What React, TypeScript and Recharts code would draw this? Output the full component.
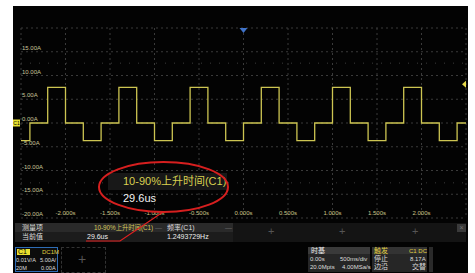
import { LineChart, Line, XAxis, YAxis, CartesianGrid, ReferenceLine, ReferenceDot } from "recharts";

// time (s) of each level change and the current (A) held from that point on
const times = [-2.5, -2.4, -2.2, -2.0, -1.8, -1.6, -1.4, -1.2, -1.0, -0.8, -0.6, -0.4, -0.2, 0.0, 0.2, 0.4, 0.6, 0.8, 1.0, 1.2, 1.4, 1.6, 1.8, 2.0, 2.2, 2.4, 2.5];
const current = [-3.7, 0, 7.5, 0, -3.7, 0, 7.5, 0, -3.7, 0, 7.5, 0, -3.7, 0, 7.5, 0, -3.7, 0, 7.5, 0, -3.7, 0, 7.5, 0, -3.7, 0, 0];

const xTicks = [-2.5, -2, -1.5, -1, -0.5, 0, 0.5, 1, 1.5, 2, 2.5];
const yTicks = [-20, -15, -10, -5, 0, 5, 10, 15, 20];
const triggerLevel = 8.17;

const data = times.map((t, i) => ({ t, amp: current[i] }));

const labelFont = "'Liberation Sans', Arial, sans-serif";
const cjkFont = "'Liberation Sans', 'Noto Sans CJK SC', sans-serif";

const renderXTick = (props: any) => {
  const { x, y, payload } = props;
  if (Math.abs(payload.value) === 2.5) return <g />;
  return (
    <text x={x} y={y - 3} textAnchor="middle" fontSize={6} fontFamily={labelFont} fill="#c9c488">
      {payload.value.toFixed(3)}s
    </text>
  );
};

const renderYTick = (props: any) => {
  const { x, y, payload } = props;
  if (payload.value === 20) return <g />;
  return (
    <text x={x + 1} y={y - 2} textAnchor="start" fontSize={6} fontFamily={labelFont} fill="#c9c69a">
      {payload.value.toFixed(2)}A
    </text>
  );
};

const TrigArrow = (props: any) => {
  const { cx, cy } = props;
  return <polygon points={`${cx - 4},${cy} ${cx},${cy - 3.5} ${cx},${cy + 3.5}`} fill="#e6d84a" />;
};

const TimeArrow = (props: any) => {
  const { cx, cy } = props;
  return <polygon points={`${cx - 4},${cy} ${cx + 4},${cy} ${cx},${cy + 5}`} fill="#3f72c8" />;
};

const ChanTag = (props: any) => {
  const { cx, cy } = props;
  return (
    <g>
      <rect x={cx - 8} y={cy - 3.5} width={7} height={7} fill="#e8e030" />
      <text x={cx - 4.5} y={cy + 2} textAnchor="middle" fontSize={5} fontFamily={labelFont} fill="#000">
        C1
      </text>
    </g>
  );
};

const txt = (s: any): any => ({ position: "absolute", fontSize: 7, fontFamily: cjkFont, lineHeight: "8px", whiteSpace: "nowrap", ...s });

export default function App() {
  return (
    <div style={{ position: "absolute", left: 0, top: 0, width: 475, height: 273, background: "#fff", overflow: "hidden" }}>
      <div style={{ position: "absolute", left: 13, top: 6, width: 455, height: 267, background: "#030303" }} />

      {/* measurement table */}
      <div style={{ position: "absolute", left: 15, top: 223, width: 451, height: 19, background: "#141414" }} />
      <div style={{ position: "absolute", left: 15, top: 223, width: 218, height: 9, background: "#2a2a2a" }} />
      <div style={{ position: "absolute", left: 15, top: 232, width: 218, height: 10, background: "#1c1c1c" }} />
      <div style={txt({ left: 22, top: 224, color: "#ddd" })}>测量项</div>
      <div style={txt({ left: 22, top: 233, color: "#ddd" })}>当前值</div>
      <div style={txt({ left: 94, top: 224, fontSize: 6.3, color: "#d6c85a" })}>10-90%上升时间(C1)</div>
      <div style={txt({ left: 155, top: 224, color: "#666" })}>—</div>
      <div style={txt({ left: 167, top: 224, color: "#ddd" })}>频率(C1)</div>
      <div style={txt({ left: 225, top: 224, color: "#666" })}>—</div>
      <div style={txt({ left: 87, top: 233, color: "#eee" })}>29.6us</div>
      <div style={txt({ left: 167, top: 233, color: "#eee" })}>1.2493729Hz</div>
      {[272, 343, 416].map((x) => (
        <div key={x} style={txt({ left: x - 4, top: 226, fontSize: 11, lineHeight: "11px", color: "#555" })}>+</div>
      ))}
      <div style={{ position: "absolute", left: 457, top: 224, width: 9, height: 8, background: "#3a3a3a", color: "#777", fontSize: 7, lineHeight: "8px", textAlign: "center", fontFamily: labelFont }}>×</div>

      {/* channel box */}
      <div style={{ position: "absolute", left: 15, top: 247, width: 41, height: 23, border: "1.5px solid #2d6cb5", background: "#0c0c0c" }} />
      <div style={{ position: "absolute", left: 17, top: 249, width: 13, height: 6, background: "#e8e030" }} />
      <div style={txt({ left: 18, top: 248, color: "#000" })}>C1</div>
      <div style={txt({ left: 42, top: 248, fontSize: 6, color: "#e0d040" })}>DC1M</div>
      <div style={txt({ left: 16, top: 256, fontSize: 5.6, color: "#ddd" })}>0.01V/A</div>
      <div style={txt({ left: 40, top: 256, fontSize: 5.6, color: "#ddd" })}>5.00A/</div>
      <div style={txt({ left: 16, top: 264, fontSize: 5.6, color: "#ddd" })}>20M</div>
      <div style={txt({ left: 41, top: 264, fontSize: 5.6, color: "#ddd" })}>0.00A</div>
      <div style={{ position: "absolute", left: 61, top: 247, width: 43, height: 24, border: "1px dashed #333" }} />
      <div style={txt({ left: 78, top: 252, fontSize: 14, lineHeight: "14px", color: "#555" })}>+</div>

      {/* timebase */}
      <div style={{ position: "absolute", left: 308, top: 247, width: 62, height: 25, background: "#262626" }} />
      <div style={{ position: "absolute", left: 308, top: 247, width: 62, height: 7, background: "#3a3a3a" }} />
      <div style={txt({ left: 311, top: 247, color: "#eee" })}>时基</div>
      <div style={txt({ left: 310, top: 255, fontSize: 6, color: "#ddd" })}>0.00s</div>
      <div style={txt({ left: 340, top: 255, fontSize: 6, color: "#ddd" })}>500ms/div</div>
      <div style={txt({ left: 310, top: 263, fontSize: 6, color: "#ddd" })}>20.0Mpts</div>
      <div style={txt({ left: 342, top: 263, fontSize: 6, color: "#ddd" })}>4.00MSa/s</div>

      {/* trigger */}
      <div style={{ position: "absolute", left: 372, top: 247, width: 55, height: 25, background: "#262626" }} />
      <div style={{ position: "absolute", left: 372, top: 247, width: 55, height: 7, background: "#333" }} />
      <div style={txt({ left: 374, top: 247, color: "#e0d040" })}>触发</div>
      <div style={txt({ left: 409, top: 247, fontSize: 6, color: "#e0d040" })}>C1 DC</div>
      <div style={txt({ left: 374, top: 255, color: "#ddd" })}>停止</div>
      <div style={txt({ left: 410, top: 255, fontSize: 6, color: "#ddd" })}>8.17A</div>
      <div style={txt({ left: 374, top: 263, color: "#ddd" })}>边沿</div>
      <div style={txt({ left: 412, top: 263, color: "#ddd" })}>交替</div>
      <div style={{ position: "absolute", left: 429, top: 247, width: 4, height: 25, background: "#2a2a2a" }} />

      <div style={{ position: "absolute", left: 0, top: 0 }}>
        <LineChart width={475} height={273} data={data} margin={{ top: 28, right: 9, bottom: 54, left: 20 }}>
          <CartesianGrid stroke="#3a3a3a" strokeDasharray="2 3" />
          <XAxis
            dataKey="t"
            type="number"
            domain={[-2.5, 2.5]}
            ticks={xTicks}
            interval={0}
            height={1}
            axisLine={false}
            tickLine={false}
            tickSize={0}
            tickMargin={0}
            tick={renderXTick}
            allowDataOverflow
          />
          <YAxis
            type="number"
            domain={[-20, 20]}
            ticks={yTicks}
            interval={0}
            width={1}
            axisLine={false}
            tickLine={false}
            tickSize={0}
            tickMargin={0}
            tick={renderYTick}
          />
          <ReferenceLine y={12.6} stroke="#3c3c3c" strokeDasharray="1 8" />
          <ReferenceLine y={-12.6} stroke="#3c3c3c" strokeDasharray="1 8" />
          <Line
            type="stepAfter"
            dataKey="amp"
            stroke="#cdc552"
            strokeWidth={1.3}
            dot={false}
            isAnimationActive={false}
          />
          <ReferenceDot x={2.5} y={triggerLevel} r={3} shape={<TrigArrow />} ifOverflow="visible" />
          <ReferenceDot x={0} y={20} r={3} shape={<TimeArrow />} ifOverflow="visible" />
          <ReferenceDot x={-2.5} y={0} r={3} shape={<ChanTag />} ifOverflow="visible" />
        </LineChart>
      </div>

      {/* measurement popup with red annotation */}
      <div style={{ position: "absolute", left: 108, top: 173, width: 119, height: 17, background: "#181818" }} />
      <div style={txt({ left: 123, top: 175, fontSize: 11, lineHeight: "13px", color: "#d8d050" })}>10-90%上升时间(C1)</div>
      <div style={txt({ left: 123, top: 192, fontSize: 11, lineHeight: "13px", color: "#f2f2f2" })}>29.6us</div>
      <svg width={475} height={273} style={{ position: "absolute", left: 0, top: 0, pointerEvents: "none" }}>
        <ellipse cx={163.5} cy={187} rx={64.5} ry={25} fill="none" stroke="#d61f1f" strokeWidth={2} />
        <polyline points="163,212 120,241 86,241" fill="none" stroke="#e02020" strokeWidth={1.2} />
      </svg>
    </div>
  );
}
